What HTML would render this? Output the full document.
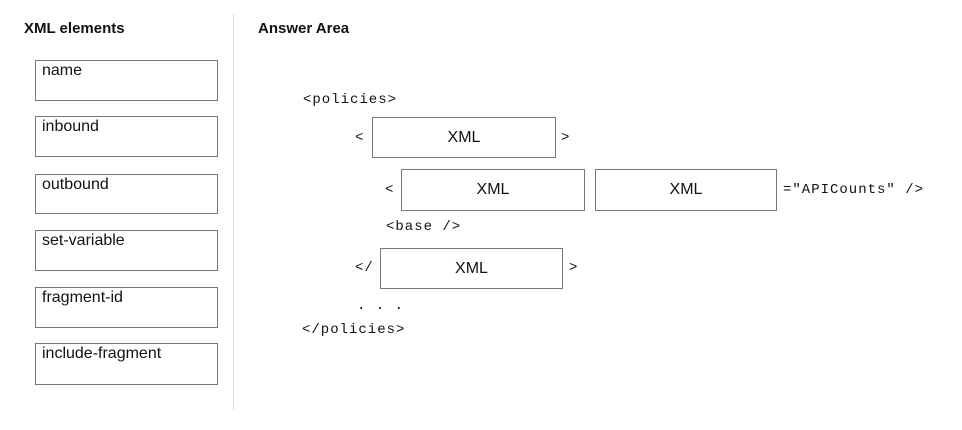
<!DOCTYPE html>
<html><head><style>
body{margin:0;width:962px;height:430px;background:#fff;position:relative;font-family:"Liberation Sans",sans-serif;color:#111;overflow:hidden}
.a{position:absolute;white-space:nowrap}
.h{font-weight:bold;font-size:15px}
.b{position:absolute;border:1.5px solid #777;box-sizing:border-box;background:#fff}
.l{font-size:16px;padding:1px 0 0 6px}
.x{font-size:16px;display:flex;align-items:center;justify-content:center}
.m{font-family:"Liberation Mono",monospace;font-size:14px;letter-spacing:1px;line-height:14px}
</style></head><body>
<div class="a h" style="left:24px;top:20px">XML elements</div>
<div class="a h" style="left:258px;top:20px">Answer Area</div>
<div class="a" style="left:233px;top:14px;width:1px;height:396px;background:#ddd"></div>
<div class="b l" style="left:35px;top:60px;width:183px;height:41px">name</div>
<div class="b l" style="left:35px;top:116px;width:183px;height:41px">inbound</div>
<div class="b l" style="left:35px;top:174px;width:183px;height:40px">outbound</div>
<div class="b l" style="left:35px;top:230px;width:183px;height:41px">set-variable</div>
<div class="b l" style="left:35px;top:287px;width:183px;height:41px">fragment-id</div>
<div class="b l" style="left:35px;top:343px;width:183px;height:42px">include-fragment</div>

<div class="a m" style="left:303px;top:93px">&lt;policies&gt;</div>
<div class="a m" style="left:355px;top:131px">&lt;</div>
<div class="b x" style="left:372px;top:117px;width:184px;height:41px">XML</div>
<div class="a m" style="left:561px;top:131px">&gt;</div>
<div class="a m" style="left:385px;top:183px">&lt;</div>
<div class="b x" style="left:401px;top:169px;width:184px;height:42px">XML</div>
<div class="b x" style="left:595px;top:169px;width:182px;height:42px">XML</div>
<div class="a m" style="left:783px;top:183px">="APICounts" /&gt;</div>
<div class="a m" style="left:386px;top:220px">&lt;base /&gt;</div>
<div class="a m" style="left:355px;top:261px">&lt;/</div>
<div class="b x" style="left:380px;top:248px;width:183px;height:41px">XML</div>
<div class="a m" style="left:569px;top:261px">&gt;</div>
<div class="a m" style="left:357px;top:299px">. . .</div>
<div class="a m" style="left:302px;top:323px">&lt;/policies&gt;</div>
</body></html>
